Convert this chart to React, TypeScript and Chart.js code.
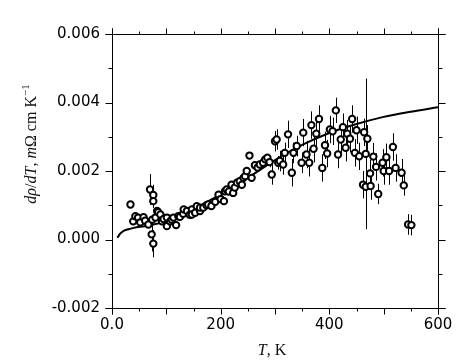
import React, { useEffect, useRef } from "react";
import { Chart, registerables } from "chart.js";

Chart.register(...registerables);

// Measured data: temperature (K), d rho/dT (mOhm cm K^-1), error half-width
const tempK = [
  34, 39, 43, 48, 52, 58, 61, 67, 70, 73, 74, 76, 76, 76, 80, 83, 85, 89, 92, 95,
  101, 101, 107, 110, 113, 118, 122, 125, 131, 132, 138, 143, 147, 147, 153, 156, 162, 162, 168, 174,
  177, 183, 190, 196, 200, 206, 208, 211, 215, 220, 223, 226, 230, 235, 239, 242, 245, 248, 253, 257,
  263, 268, 272, 278, 282, 286, 290, 294, 300, 303, 306, 309, 315, 318, 324, 331, 334, 340, 349, 352,
  358, 363, 367, 371, 376, 381, 387, 392, 396, 401, 406, 412, 416, 421, 425, 430, 433, 438, 442, 447,
  450, 455, 462, 464, 467, 467, 470, 475, 476, 481, 486, 490, 498, 500, 505, 510, 517, 522, 533, 537,
  545, 551,
];
const drhoDT = [
  0.00102, 0.00053, 0.00068, 0.00064, 0.0005, 0.00065, 0.00055, 0.00044, 0.00146, 0.00015, 0.00058, 0.0013, 0.00112, -0.00012, 0.00064, 0.00083, 0.0008, 0.00073, 0.00053, 0.0006,
  0.00039, 0.00064, 0.00053, 0.00058, 0.00064, 0.00042, 0.00068, 0.00066, 0.00075, 0.00088, 0.00083, 0.00072, 0.00088, 0.00073, 0.00078, 0.00097, 0.00083, 0.00093, 0.00093, 0.001,
  0.00102, 0.00098, 0.0011, 0.00131, 0.00118, 0.00112, 0.00141, 0.00146, 0.0014, 0.0016, 0.00136, 0.00152, 0.00166, 0.0017, 0.0016, 0.0018, 0.00185, 0.002, 0.00245, 0.0018,
  0.00217, 0.0021, 0.00219, 0.00224, 0.00234, 0.00239, 0.00226, 0.0019, 0.00287, 0.00292, 0.00224, 0.00229, 0.00219, 0.00253, 0.00307, 0.00195, 0.00253, 0.00273, 0.00224, 0.00312,
  0.00248, 0.00224, 0.00334, 0.00265, 0.00309, 0.00352, 0.00209, 0.00275, 0.00251, 0.00321, 0.00316, 0.00377, 0.00248, 0.00292, 0.00328, 0.00268, 0.00309, 0.00294, 0.00352, 0.00253,
  0.00319, 0.00243, 0.0016, 0.00313, 0.00154, 0.0025, 0.00294, 0.00193, 0.00156, 0.00242, 0.00212, 0.00133, 0.00224, 0.002, 0.0024, 0.002, 0.0027, 0.00209, 0.00195, 0.00158,
  0.00044, 0.00042,
];
const errBar = [
  0.0001, 0.00005, 0.00005, 0.00005, 0.00005, 0.00005, 0.00005, 0.00005, 0.00045, 0.0005, 0.00005, 0.0003, 0.0002, 0.0004, 0.00005, 0.00005, 0.00005, 0.00005, 0.00005, 0.00005,
  0.00005, 0.00005, 0.00005, 0.00005, 0.00005, 0.00005, 0.00005, 0.00005, 0.00005, 0.00005, 0.00005, 0.00005, 0.00005, 0.00005, 0.00005, 0.00005, 0.00005, 0.00005, 0.00005, 0.00005,
  0.00005, 0.00005, 0.00005, 0.00005, 0.00005, 0.00005, 0.00005, 0.00005, 0.00005, 0.00008, 0.00008, 0.00008, 0.00008, 0.00008, 0.00008, 0.0001, 0.0001, 0.0001, 0.0001, 0.0001,
  0.0001, 0.0001, 0.0001, 0.0001, 0.0001, 0.0001, 0.00015, 0.0003, 0.0003, 0.0003, 0.0002, 0.0003, 0.0003, 0.0003, 0.0004, 0.0004, 0.0003, 0.0003, 0.0003, 0.0004,
  0.0004, 0.0004, 0.0004, 0.0004, 0.0004, 0.0004, 0.0004, 0.0004, 0.0004, 0.0004, 0.0004, 0.00037, 0.0004, 0.0004, 0.0004, 0.0004, 0.0004, 0.0004, 0.0004, 0.0004,
  0.0004, 0.0004, 0.0004, 0.0004, 0.0004, 0.0022, 0.0004, 0.0004, 0.0004, 0.0004, 0.0004, 0.0003, 0.0004, 0.0004, 0.0004, 0.0004, 0.0004, 0.0004, 0.0004, 0.0003,
  0.0003, 0.0003,
];

// Model curve
const fitT = [10, 15, 20, 30, 40, 60, 80, 100, 125, 150, 175, 200, 250, 300, 350, 400, 450, 500, 550, 600];
const fitV = [0.00005, 0.00017, 0.00024, 0.0003, 0.00034, 0.00039, 0.00045, 0.00053, 0.00068, 0.00088, 0.0011, 0.00132, 0.0018, 0.00232, 0.00276, 0.00311, 0.00337, 0.00358, 0.00373, 0.00386];

const xMajorLabels = [0, 200, 400, 600];

const frameAndDecor = {
  id: "frameAndDecor",
  beforeDatasetsDraw(chart: any) {
    const ctx = chart.ctx;
    const xs = chart.scales.x;
    const ys = chart.scales.y;
    // error bars
    ctx.save();
    ctx.strokeStyle = "#000";
    ctx.lineWidth = 1;
    tempK.forEach((t, i) => {
      const px = Math.round(xs.getPixelForValue(t)) + 0.5;
      const y1 = ys.getPixelForValue(drhoDT[i] - errBar[i]);
      const y2 = ys.getPixelForValue(drhoDT[i] + errBar[i]);
      ctx.beginPath();
      ctx.moveTo(px, y1);
      ctx.lineTo(px, y2);
      ctx.stroke();
    });
    ctx.restore();
  },
  afterDraw(chart: any) {
    const ctx = chart.ctx;
    const xs = chart.scales.x;
    const ys = chart.scales.y;
    const { left, right, top, bottom } = chart.chartArea;
    const L = Math.round(left) + 0.5;
    const R = Math.round(right) + 0.5;
    const T = Math.round(top) + 0.5;
    const B = Math.round(bottom) + 0.5;
    ctx.save();
    ctx.strokeStyle = "#000";
    ctx.lineWidth = 1;
    ctx.beginPath();
    // frame with slight overshoot
    ctx.moveTo(L - 7, T); ctx.lineTo(R + 7, T);
    ctx.moveTo(L - 7, B); ctx.lineTo(R + 7, B);
    ctx.moveTo(L, T - 6); ctx.lineTo(L, B + 6);
    ctx.moveTo(R, T - 6); ctx.lineTo(R, B + 6);
    for (let v = 0; v <= 600; v += 50) {
      const px = Math.round(xs.getPixelForValue(v)) + 0.5;
      const len = v % 100 === 0 ? 6 : 3;
      ctx.moveTo(px, B); ctx.lineTo(px, B + len);
      ctx.moveTo(px, T); ctx.lineTo(px, T - len);
    }
    for (let k = -2; k <= 6; k++) {
      const py = Math.round(ys.getPixelForValue(k / 1000)) + 0.5;
      const len = k % 2 === 0 ? 7 : 4;
      ctx.moveTo(L, py); ctx.lineTo(L - len, py);
      ctx.moveTo(R, py); ctx.lineTo(R + len, py);
    }
    ctx.stroke();

    // axis titles
    ctx.fillStyle = "#111";
    ctx.textBaseline = "alphabetic";
    const it = "italic 16px 'Liberation Serif', 'DejaVu Serif', serif";
    const rm = "16px 'Liberation Serif', 'DejaVu Serif', serif";
    const sm = "11px 'Liberation Serif', 'DejaVu Serif', serif";
    const segs: [string, string, number][] = [
      ["d", it, 0], ["ρ", it, 0], ["/", rm, 0], ["d", it, 0], ["T", it, 0], [", ", rm, 0],
      ["m", it, 0], ["Ω cm K", rm, 0], ["−1", sm, -7],
    ];
    let total = 0;
    segs.forEach(([s, f]) => { ctx.font = f; total += ctx.measureText(s).width; });
    ctx.save();
    ctx.translate(36, 144 + total / 2);
    ctx.rotate(-Math.PI / 2);
    let x = 0;
    segs.forEach(([s, f, dy]) => {
      ctx.font = f;
      ctx.fillText(s, x, dy);
      x += ctx.measureText(s).width;
    });
    ctx.restore();

    const xsegs: [string, string][] = [["T", it], [", K", rm]];
    let tw = 0;
    xsegs.forEach(([s, f]) => { ctx.font = f; tw += ctx.measureText(s).width; });
    let xx = (left + right) / 2 - tw / 2 - 3;
    xsegs.forEach(([s, f]) => {
      ctx.font = f;
      ctx.fillText(s, xx, 355);
      xx += ctx.measureText(s).width;
    });
    ctx.restore();
  },
};

export default function App() {
  const ref = useRef<HTMLCanvasElement | null>(null);
  useEffect(() => {
    if (!ref.current) return;
    const tickFont = { family: "'DejaVu Sans', sans-serif", size: 15 };
    const chart = new Chart(ref.current, {
      type: "scatter",
      data: {
        datasets: [
          {
            type: "line",
            data: fitT.map((t, i) => ({ x: t, y: fitV[i] })),
            borderColor: "#000",
            borderWidth: 2,
            pointRadius: 0,
            cubicInterpolationMode: "monotone",
            fill: false,
            order: 1,
          } as any,
          {
            data: tempK.map((t, i) => ({ x: t, y: drhoDT[i] })),
            pointRadius: 3.2,
            pointBorderWidth: 2,
            pointBackgroundColor: "#fff",
            pointBorderColor: "#000",
            order: 0,
          },
        ],
      },
      options: {
        animation: false,
        responsive: false,
        devicePixelRatio: 1,
        layout: { padding: { left: 0, right: 36, top: 34, bottom: 0 } },
        plugins: { legend: { display: false }, tooltip: { enabled: false } },
        scales: {
          x: {
            type: "linear",
            min: 0,
            max: 600,
            grid: { display: false, drawTicks: false },
            border: { display: false },
            ticks: {
              stepSize: 50,
              padding: 8,
              color: "#000",
              font: tickFont,
              maxRotation: 0,
              autoSkip: false,
              callback: (v: any) => (xMajorLabels.includes(v) ? (v === 0 ? "0.0" : String(v)) : ""),
            },
            afterFit: (s: any) => { s.height = 56; },
          },
          y: {
            type: "linear",
            min: -0.002,
            max: 0.006,
            grid: { display: false, drawTicks: false },
            border: { display: false },
            ticks: {
              stepSize: 0.001,
              padding: 12,
              color: "#000",
              font: tickFont,
              autoSkip: false,
              callback: (v: any) => {
                const k = Math.round(v * 1000);
                return k % 2 === 0 ? (k / 1000).toFixed(3) : "";
              },
            },
            afterFit: (s: any) => { s.width = 112; },
          },
        },
      },
      plugins: [frameAndDecor],
    });
    return () => chart.destroy();
  }, []);
  return (
    <div style={{ position: "absolute", left: 0, top: 0, width: 474, height: 364, background: "#fff" }}>
      <canvas ref={ref} width={474} height={364} style={{ display: "block" }} />
    </div>
  );
}
